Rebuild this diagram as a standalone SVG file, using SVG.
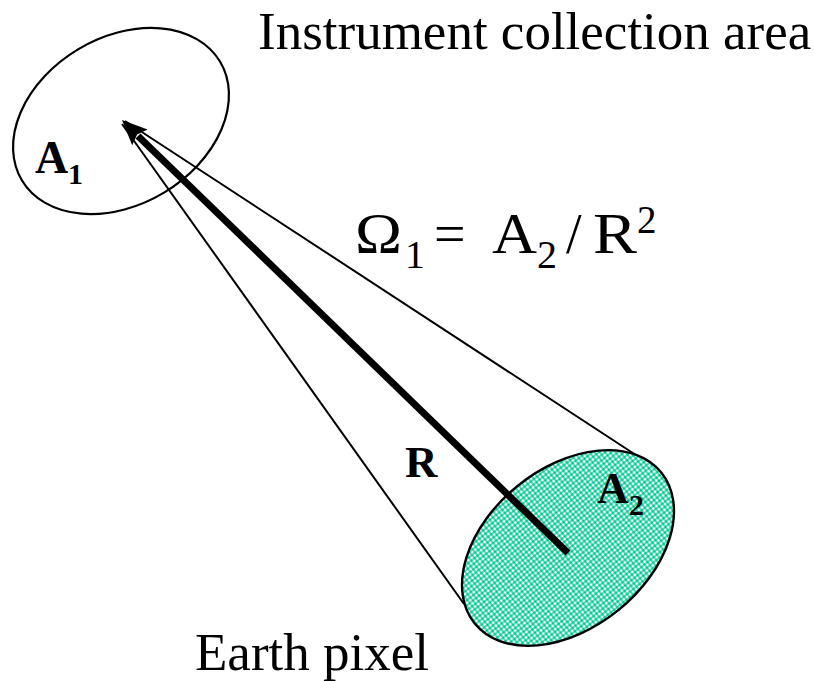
<svg xmlns="http://www.w3.org/2000/svg" width="814" height="681" viewBox="0 0 814 681">
  <style>
    .serif { font-family: "Liberation Serif", "Times New Roman", serif; fill: #000; }
    .bold { font-weight: bold; }
    .outline { fill: none; stroke: #000; stroke-width: 2.2; }
    .thin { stroke: #000; stroke-width: 2; fill: none; }
  </style>
  <defs>
    <pattern id="checker" patternUnits="userSpaceOnUse" width="4" height="4">
      <rect width="4" height="4" fill="#5cdcb8"/>
      <rect x="0" y="0" width="2" height="2" fill="#00c894"/>
      <rect x="2" y="2" width="2" height="2" fill="#ffffff"/>
    </pattern>
  </defs>
  <rect width="814" height="681" fill="#fff"/>

  <g id="connectors">
    <line class="thin" x1="125" y1="121" x2="642" y2="459"/>
    <line class="thin" x1="122" y1="124" x2="464" y2="604"/>
  </g>

  <g id="instrument-area">
    <ellipse class="outline" cx="121" cy="121" rx="115.5" ry="83.5" transform="rotate(-31 121 121)"/>
    <text class="serif bold" x="35" y="173" font-size="46">A</text>
    <text class="serif bold" x="68" y="184" font-size="30">1</text>
  </g>

  <g id="earth-pixel">
    <ellipse cx="568" cy="548" rx="120" ry="80" transform="rotate(-39 568 548)" fill="url(#checker)" stroke="#000" stroke-width="2.4"/>
    <text class="serif bold" x="597" y="503" font-size="44">A</text>
    <text class="serif bold" x="629" y="515" font-size="30">2</text>
  </g>

  <g id="range-arrow">
    <line x1="568" y1="553" x2="138" y2="136" stroke="#000" stroke-width="7"/>
    <polygon points="122,120 147.6,129.5 137.1,134.6 132.2,145.3" fill="#000"/>
    <text class="serif bold" x="405" y="477" font-size="45">R</text>
  </g>

  <g id="equation">
    <text class="serif" x="355" y="253" font-size="56" textLength="47" lengthAdjust="spacingAndGlyphs">Ω</text>
    <text class="serif" x="405" y="268" font-size="40">1</text>
    <text class="serif" x="434" y="253" font-size="56">=</text>
    <text class="serif" x="492" y="253" font-size="56" textLength="45" lengthAdjust="spacingAndGlyphs">A</text>
    <text class="serif" x="537" y="268" font-size="40">2</text>
    <text class="serif" x="566" y="253" font-size="56">/</text>
    <text class="serif" x="593" y="253" font-size="56" textLength="44" lengthAdjust="spacingAndGlyphs">R</text>
    <text class="serif" x="637" y="233" font-size="39">2</text>
  </g>

  <g id="labels">
    <text class="serif" x="258" y="49" font-size="53">Instrument collection area</text>
    <text class="serif" x="195" y="670" font-size="53">Earth pixel</text>
  </g>
</svg>
